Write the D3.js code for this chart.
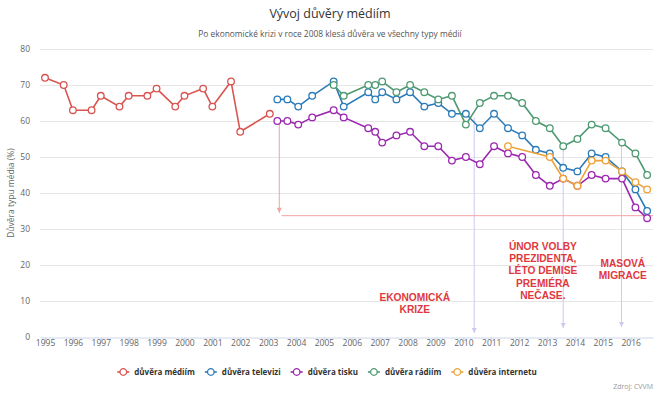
<!DOCTYPE html>
<html>
<head>
<meta charset="utf-8">
<script src="https://cdn.jsdelivr.net/npm/d3@7"></script>
<style>
  body { margin: 0; background: #fff; }
  svg { display: block; font-family: "Open Sans", sans-serif; }
</style>
</head>
<body>
<div id="chart"></div>
<script>
// data (x = year as decimal, y = % trust)
var yearsMedia = [1995, 1995.67, 1996, 1996.67, 1997, 1997.67, 1998, 1998.67, 1999, 1999.67,
                  2000, 2000.67, 2001, 2001.67, 2002, 2003.06];
var valMedia   = [72, 70, 63, 63, 67, 64, 67, 67, 69, 64, 67, 69, 64, 71, 57, 62];

var yearsTvTisk = [2003.33, 2003.69, 2004.08, 2004.58, 2005.35, 2005.71, 2006.59, 2006.84, 2007.09, 2007.6,
                   2008.09, 2008.6, 2009.1, 2009.59, 2010.09, 2010.59, 2011.1, 2011.6, 2012.11, 2012.6,
                   2013.1, 2013.58, 2014.09, 2014.6, 2015.1, 2015.69, 2016.17, 2016.59];
var valTv   = [66, 66, 64, 67, 71, 64, 68, 66, 68, 66, 68, 64, 65, 62, 62, 58, 62, 58, 56, 52, 51, 47, 46, 51, 50, 46, 41, 35];
var valTisk = [60, 60, 59, 61, 63, 61, 58, 57, 54, 56, 57, 53, 53, 49, 50, 48, 53, 51, 50, 45, 42, 44, 42, 45, 44, 44, 36, 33];

var yearsRadio = [2005.35, 2005.71, 2006.59, 2006.84, 2007.09, 2007.6, 2008.09, 2008.6, 2009.1, 2009.59,
                  2010.09, 2010.59, 2011.1, 2011.6, 2012.11, 2012.6, 2013.1, 2013.58, 2014.09, 2014.6,
                  2015.1, 2015.69, 2016.17, 2016.59];
var valRadio = [70, 67, 70, 70, 71, 68, 70, 68, 66, 67, 59, 65, 67, 67, 65, 60, 58, 53, 55, 59, 58, 54, 51, 45];

var yearsNet = [2011.6, 2013.1, 2013.58, 2014.09, 2014.6, 2015.1, 2015.69, 2016.17, 2016.59];
var valNet   = [53, 50, 44, 42, 49, 49, 46, 43, 41];

var seriesNames  = ["důvěra médiím", "důvěra televizi", "důvěra tisku", "důvěra rádiím", "důvěra internetu"];
var seriesColors = ["#d9534f", "#2b7bb9", "#9c27b0", "#4f9a72", "#eda23a"];

var xTicks = d3.range(1995, 2017);
var yTicks = [0, 10, 20, 30, 40, 50, 60, 70, 80];

// annotations: vertical arrows (year, from value, to value)
var eventArrows = [[2010.39, 61, 1.1], [2013.58, 52, 2.5], [2015.67, 53, 2.8]];
var eventLabels = [
  [2008.26, 10, ["EKONOMICKÁ", "KRIZE"]],
  [2012.85, 24.2, ["ÚNOR VOLBY", "PREZIDENTA,", "LÉTO DEMISE", "PREMIÉRA", "NEČASE."]],
  [2015.72, 19.4, ["MASOVÁ", "MIGRACE"]]
];
var baseArrow = [2003.4, 61, 34.5];     // red arrow down
var baseLine  = [2003.48, 2016.8, 33.7]; // red horizontal reference

var width = 669, height = 399;

var svg = d3.select("#chart").append("svg")
  .attr("width", width)
  .attr("height", height);

var x = d3.scaleLinear().domain([1994.82, 2016.8]).range([40, 653]);
var y = d3.scaleLinear().domain([0, 80]).range([337, 49]);

// title
svg.append("text")
  .attr("x", 330).attr("y", 18)
  .attr("text-anchor", "middle")
  .attr("font-size", 12.5)
  .attr("fill", "#333")
  .text("Vývoj důvěry médiím");

svg.append("text")
  .attr("x", 330).attr("y", 37)
  .attr("text-anchor", "middle")
  .attr("font-size", 8.4)
  .attr("fill", "#555")
  .text("Po ekonomické krizi v roce 2008 klesá důvěra ve všechny typy médií");

// grid + y labels
svg.append("g").selectAll("line")
  .data(yTicks.filter(function(d){ return d > 0; }))
  .enter().append("line")
  .attr("x1", 40).attr("x2", 653)
  .attr("y1", function(d){ return y(d) + 0.5; })
  .attr("y2", function(d){ return y(d) + 0.5; })
  .attr("stroke", "#e6e6e6");

svg.append("g").selectAll("text")
  .data(yTicks)
  .enter().append("text")
  .attr("x", 30)
  .attr("y", function(d){ return y(d) + 3; })
  .attr("text-anchor", "end")
  .attr("font-size", 8.5)
  .attr("fill", "#666")
  .text(function(d){ return d; });

svg.append("text")
  .attr("transform", "translate(14," + y(40) + ") rotate(-90)")
  .attr("text-anchor", "middle")
  .attr("font-size", 8.5)
  .attr("fill", "#666")
  .text("Důvěra typu média (%)");

// x axis
var xAxis = d3.axisBottom(x).tickValues(xTicks).tickFormat(d3.format("d")).tickSize(5).tickSizeOuter(0);
var gx = svg.append("g").attr("transform", "translate(0," + (y(0) + 0.5) + ")").call(xAxis);
gx.select(".domain").attr("stroke", "#ccd6eb");
gx.selectAll(".tick line").attr("stroke", "#ccd6eb");
gx.selectAll(".tick text").attr("fill", "#666").attr("font-size", 8.5)
  .attr("font-family", "Open Sans, sans-serif").attr("dy", "0.55em").attr("y", 4);

// annotation lines
var defs = svg.append("defs");
function arrowHead(id, color) {
  defs.append("marker").attr("id", id)
    .attr("viewBox", "0 0 10 10").attr("refX", 5).attr("refY", 10)
    .attr("markerWidth", 5).attr("markerHeight", 8)
    .attr("orient", "0")
    .append("path").attr("d", "M0,0 L10,0 L5,10 Z").attr("fill", color);
}
arrowHead("arrLav", "#cfc9ef");
arrowHead("arrRed", "#f3a3a3");

svg.append("g").selectAll("line")
  .data(eventArrows)
  .enter().append("line")
  .attr("x1", function(d){ return x(d[0]); })
  .attr("x2", function(d){ return x(d[0]); })
  .attr("y1", function(d){ return y(d[1]); })
  .attr("y2", function(d){ return y(d[2]); })
  .attr("stroke", "#cfc9ef").attr("stroke-width", 1)
  .attr("marker-end", "url(#arrLav)");

svg.append("line")
  .attr("x1", x(baseArrow[0])).attr("x2", x(baseArrow[0]))
  .attr("y1", y(baseArrow[1])).attr("y2", y(baseArrow[2]))
  .attr("stroke", "#f3a3a3").attr("stroke-width", 1)
  .attr("marker-end", "url(#arrRed)");

svg.append("line")
  .attr("x1", x(baseLine[0])).attr("x2", x(baseLine[1]))
  .attr("y1", y(baseLine[2])).attr("y2", y(baseLine[2]))
  .attr("stroke", "#f3a3a3").attr("stroke-width", 1);

// series
var series = [
  { xs: yearsMedia, ys: valMedia },
  { xs: yearsTvTisk, ys: valTv },
  { xs: yearsTvTisk, ys: valTisk },
  { xs: yearsRadio, ys: valRadio },
  { xs: yearsNet, ys: valNet }
];

var line = d3.line()
  .x(function(d){ return x(d[0]); })
  .y(function(d){ return y(d[1]); });

series.forEach(function(s, i){
  var pts = s.xs.map(function(v, j){ return [v, s.ys[j]]; });
  var g = svg.append("g");
  g.append("path").datum(pts)
    .attr("d", line)
    .attr("fill", "none")
    .attr("stroke", seriesColors[i])
    .attr("stroke-width", 1.6);
  g.selectAll("circle").data(pts).enter().append("circle")
    .attr("cx", function(d){ return x(d[0]); })
    .attr("cy", function(d){ return y(d[1]); })
    .attr("r", 3.3)
    .attr("fill", "#fff")
    .attr("stroke", seriesColors[i])
    .attr("stroke-width", 1.3);
});

// event labels
eventLabels.forEach(function(a){
  var t = svg.append("text")
    .attr("text-anchor", "middle")
    .attr("font-family", "Liberation Sans, Arial, sans-serif")
    .attr("font-size", 10.2)
    .attr("font-weight", "bold")
    .attr("fill", "#e0383e");
  a[2].forEach(function(s, k){
    t.append("tspan").attr("x", x(a[0])).attr("y", y(a[1]) + k * 12.3).text(s);
  });
});

// legend
var legend = svg.append("g");
var lx = 0;
seriesNames.forEach(function(n, i){
  var it = legend.append("g").attr("transform", "translate(" + lx + ",0)");
  it.append("line").attr("x1", -6).attr("x2", 6).attr("y1", 0).attr("y2", 0)
    .attr("stroke", seriesColors[i]).attr("stroke-width", 1.6);
  it.append("circle").attr("r", 3.3).attr("fill", "#fff")
    .attr("stroke", seriesColors[i]).attr("stroke-width", 1.3);
  var tx = it.append("text").attr("x", 11).attr("y", 3)
    .attr("font-size", 8).attr("font-weight", "bold").attr("fill", "#333")
    .text(n);
  lx += 11 + tx.node().getComputedTextLength() + 16;
});
var legW = lx - 16 + 6;
legend.attr("transform", "translate(" + (327 - legW / 2 + 6) + ",372)");

svg.append("text")
  .attr("x", 653).attr("y", 389)
  .attr("text-anchor", "end")
  .attr("font-size", 7)
  .attr("fill", "#999")
  .text("Zdroj: CVVM");
</script>
</body>
</html>
